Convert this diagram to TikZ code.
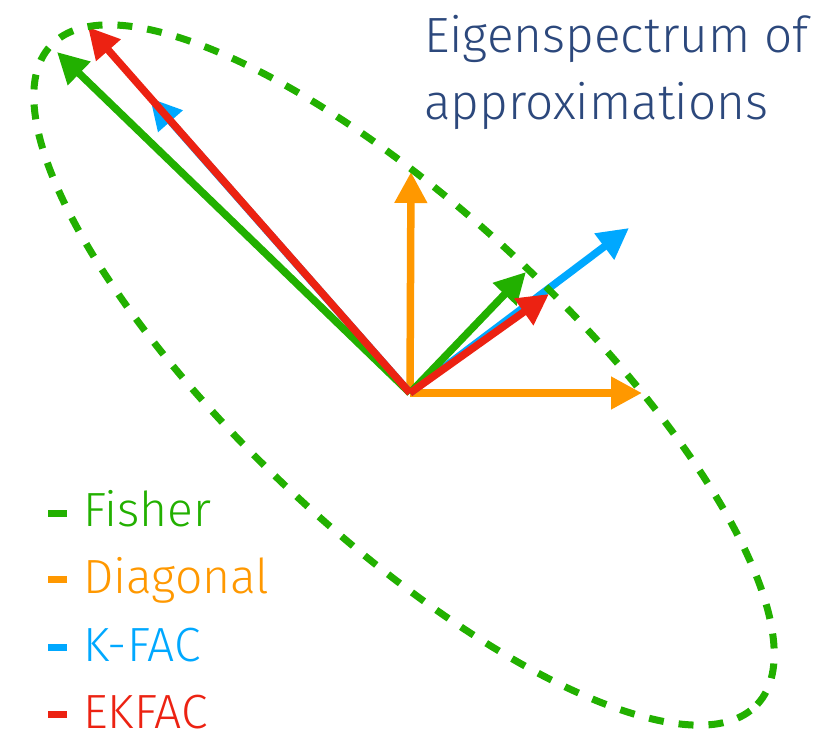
\documentclass[tikz,border=0pt]{standalone}
\usepackage{fontspec}
\setmainfont{Fira Sans}[UprightFont=* Light]
\usepackage{xcolor}
\usetikzlibrary{arrows.meta}

\definecolor{fishergreen}{RGB}{34,176,0}
\definecolor{diagorange}{RGB}{255,152,0}
\definecolor{kfacblue}{RGB}{0,168,255}
\definecolor{ekfacred}{RGB}{236,34,18}
\definecolor{titlenavy}{RGB}{44,72,124}

\begin{document}
\begin{tikzpicture}[
  x=1pt, y=-1pt,
  vec/.style={line width=7.5pt, -{Triangle[length=31pt,width=31pt]}},
  spread/.style={draw=fishergreen, line width=7pt, dash pattern=on 15pt off 15pt},
  legend/.style={anchor=base west, inner sep=0pt, font=\fontsize{48}{56}\selectfont}
]
\useasboundingbox (0,0) rectangle (831,751);

% ---- Eigenvector tips -------------------------------------------------------
\coordinate (o)       at (410,393);
\coordinate (fishA)   at (57,52);
\coordinate (fishB)   at (526,272);
\coordinate (diagA)   at (411,172);
\coordinate (diagB)   at (642,393);
\coordinate (kfacA)   at (150,98);
\coordinate (kfacB)   at (629,228);
\coordinate (ekfacA)  at (88,27);
\coordinate (ekfacB)  at (549,294);

% ---- Arrows -----------------------------------------------------------------
\draw[vec, diagorange]   (o) -- (diagA);
\draw[vec, diagorange]   (o) -- (diagB);
\draw[vec, kfacblue]     (o) -- (kfacA);
\draw[vec, kfacblue]     (o) -- (kfacB);
\draw[vec, fishergreen]  (o) -- (fishA);
\draw[vec, fishergreen]  (o) -- (fishB);
\draw[vec, ekfacred]     (o) -- (ekfacA);
\draw[vec, ekfacred]     (o) -- (ekfacB);

% ---- Fisher ellipse ---------------------------------------------------------
\draw[spread] (404,375) ellipse [x radius=483pt, y radius=162pt, rotate=-43];

% ---- Title ------------------------------------------------------------------
\node[anchor=base west, inner sep=0pt, align=left, text=titlenavy,
      font=\fontsize{49.5}{67}\selectfont] (title) at (424,120)
  {Eigenspectrum of\\approximations};

% ---- Legend -----------------------------------------------------------------
\node[legend, text=fishergreen] (lfisher) at (48,527)
  {\rule[10pt]{19pt}{7pt}\hspace{16pt}Fisher};
\node[legend, text=diagorange]  (ldiag)   at (48,593)
  {\rule[10pt]{19pt}{7pt}\hspace{16pt}Diagonal};
\node[legend, text=kfacblue]    (lkfac)   at (48,661)
  {\rule[10pt]{19pt}{7pt}\hspace{16pt}K-FAC};
\node[legend, text=ekfacred]    (lekfac)  at (48,728)
  {\rule[10pt]{19pt}{7pt}\hspace{16pt}EKFAC};

\end{tikzpicture}
\end{document}
